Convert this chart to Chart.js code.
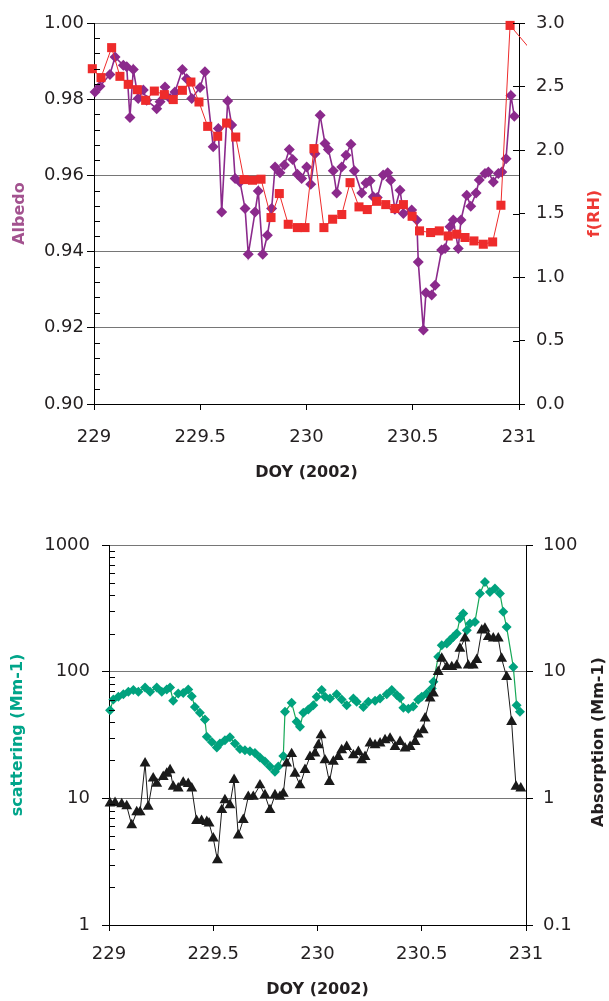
<!DOCTYPE html>
<html>
<head>
<meta charset="utf-8">
<script src="https://cdn.jsdelivr.net/npm/chart.js@4.4.1/dist/chart.umd.min.js"></script>
<style>
  html, body { margin: 0; padding: 0; background: #fff; }
  #wrap { position: relative; width: 609px; height: 1001px; overflow: hidden; }
  #c1 { position: absolute; left: 0; top: 0; }
  #c2 { position: absolute; left: 0; top: 500px; }
</style>
</head>
<body>
<div id="wrap">
  <canvas id="c1" width="609" height="500"></canvas>
  <canvas id="c2" width="609" height="501"></canvas>
</div>
<script>
// ---- Upper panel: albedo and f(RH) vs day of year ----
const albedoDoy = [229.005,229.028,229.075,229.099,229.138,229.154,229.169,229.185,229.208,229.232,229.248,229.295,229.311,229.334,229.358,229.381,229.416,229.436,229.460,229.499,229.522,229.561,229.585,229.601,229.629,229.648,229.664,229.687,229.711,229.726,229.758,229.773,229.794,229.816,229.836,229.852,229.875,229.896,229.919,229.935,229.957,229.977,230.001,230.020,230.040,230.064,230.087,230.103,230.126,230.142,230.166,230.186,230.209,230.225,230.260,230.280,230.299,230.314,230.333,230.361,230.382,230.396,230.416,230.440,230.456,230.495,230.519,230.526,230.550,230.562,230.589,230.605,230.636,230.652,230.675,230.691,230.714,230.727,230.754,230.773,230.798,230.813,230.840,230.856,230.879,230.903,230.919,230.939,230.962,230.978];
const albedo = [0.9819,0.9834,0.9865,0.9911,0.9889,0.9885,0.9752,0.9878,0.9802,0.9824,0.9797,0.9775,0.9793,0.9832,0.9802,0.9819,0.9878,0.9854,0.9802,0.9831,0.9872,0.9675,0.9723,0.9504,0.9795,0.9732,0.9592,0.9583,0.9513,0.9393,0.9504,0.9559,0.9393,0.9443,0.9513,0.9622,0.9607,0.9627,0.9668,0.9642,0.9603,0.9592,0.9622,0.9577,0.9657,0.9758,0.9684,0.9668,0.9612,0.9554,0.9622,0.9653,0.9682,0.9612,0.9554,0.9580,0.9586,0.9544,0.9542,0.9601,0.9607,0.9587,0.9511,0.9561,0.9500,0.9509,0.9483,0.9373,0.9194,0.9292,0.9286,0.9312,0.9404,0.9408,0.9465,0.9483,0.9408,0.9483,0.9548,0.9519,0.9554,0.9588,0.9605,0.9609,0.9583,0.9605,0.9609,0.9644,0.9810,0.9755];

const frhDoy = [228.992,229.033,229.083,229.122,229.161,229.204,229.243,229.284,229.331,229.373,229.416,229.456,229.494,229.535,229.582,229.624,229.667,229.706,229.746,229.786,229.833,229.872,229.914,229.957,229.993,230.035,230.082,230.123,230.166,230.205,230.247,230.286,230.330,230.373,230.416,230.456,230.497,230.532,230.584,230.625,230.667,230.707,230.746,230.788,230.832,230.876,230.915,230.958,231.080];
const frh = [2.640,2.570,2.806,2.580,2.517,2.475,2.391,2.464,2.436,2.397,2.470,2.535,2.378,2.186,2.108,2.212,2.102,1.767,1.762,1.770,1.468,1.657,1.415,1.389,1.389,2.011,1.389,1.455,1.492,1.743,1.552,1.531,1.596,1.570,1.539,1.570,1.478,1.363,1.350,1.363,1.323,1.337,1.311,1.284,1.258,1.276,1.565,2.981,2.740];

// ---- Lower panel: scattering and absorption coefficients ----
const scatDoy = [229.005,229.021,229.045,229.069,229.093,229.117,229.141,229.173,229.197,229.229,229.253,229.277,229.293,229.308,229.332,229.356,229.380,229.397,229.412,229.436,229.460,229.469,229.493,229.517,229.532,229.556,229.580,229.604,229.628,229.652,229.676,229.700,229.724,229.748,229.772,229.796,229.812,229.836,229.844,229.876,229.900,229.916,229.932,229.956,229.980,229.996,230.020,230.036,230.060,230.092,230.116,230.140,230.172,230.188,230.220,230.244,230.276,230.300,230.332,230.356,230.380,230.396,230.412,230.436,230.459,230.483,230.500,230.524,230.548,230.556,230.579,230.596,230.620,230.635,230.651,230.668,230.683,230.699,230.716,230.731,230.755,230.779,230.803,230.827,230.851,230.875,230.891,230.907,230.939,230.955,230.971];
const scattering = [49.7,60.4,63.3,66.4,69.3,71.5,69.3,75,69.3,75,69.3,72.4,75,58.9,67.3,68,72.4,64,52.7,47.3,42,30.6,27.9,25.2,27.1,28.8,30.3,27.1,24.5,24,23.5,22.8,21,19.5,17.8,16.2,17.8,21.6,48.2,56.8,40.2,36.7,47.3,50.3,54.4,63.3,71.5,63.3,61.5,66.4,60.4,54.4,61.5,57.8,52.7,57.8,58.9,61.5,66.4,71.5,65.3,62,52,51,53,60,63.3,67.3,73.8,83.2,131,162,167,177,188,200,263,288,212,240,247,414,511,426,453,414,297,225,109,54.4,48.2];

const absDoy = [229.005,229.029,229.061,229.085,229.109,229.133,229.149,229.173,229.188,229.212,229.229,229.260,229.277,229.293,229.308,229.332,229.356,229.380,229.397,229.420,229.444,229.469,229.480,229.500,229.520,229.541,229.556,229.580,229.600,229.620,229.644,229.668,229.692,229.724,229.748,229.772,229.796,229.820,229.836,229.852,229.876,229.892,229.916,229.940,229.964,229.988,230.004,230.017,230.036,230.057,230.076,230.100,230.116,230.140,230.172,230.196,230.212,230.228,230.252,230.276,230.300,230.324,230.348,230.372,230.396,230.420,230.444,230.468,230.483,230.507,230.516,230.540,230.556,230.579,230.596,230.620,230.644,230.668,230.683,230.707,230.723,230.747,230.764,230.788,230.803,230.819,230.843,230.867,230.883,230.907,230.931,230.952,230.975];
const absorption = [0.914,0.92,0.90,0.87,0.615,0.78,0.78,1.89,0.86,1.44,1.31,1.48,1.57,1.67,1.24,1.20,1.33,1.30,1.20,0.665,0.665,0.653,0.635,0.484,0.326,0.81,0.97,0.885,1.40,0.51,0.676,1.03,1.03,1.27,1.06,0.81,1.06,1.03,1.09,1.89,2.24,1.57,1.27,1.68,2.13,2.27,2.63,3.15,2.0,1.35,1.95,2.13,2.40,2.55,2.19,2.33,2.0,2.13,2.72,2.63,2.72,2.88,2.97,2.55,2.79,2.48,2.55,2.79,3.2,3.46,4.28,6.15,6.73,9.96,12.7,10.9,10.9,11.2,15.2,18.3,11.2,11.2,12.4,21.2,21.9,18.8,18.3,18.3,12.7,9.1,4.02,1.24,1.20];

// axis tick labels
const doyTicks = [229, 229.5, 230, 230.5, 231];
const albedoTicks = [0.90, 0.92, 0.94, 0.96, 0.98, 1.00];
const frhTicks = [0, 0.5, 1.0, 1.5, 2.0, 2.5, 3.0];
const scatTicks = [1, 10, 100, 1000];
const absTicks = [0.1, 1, 10, 100];

const pts = (xs, ys) => xs.map((x, i) => ({ x, y: ys[i] }));

Chart.defaults.font.family = '"DejaVu Sans", sans-serif';
Chart.defaults.color = '#231f20';
Chart.defaults.animation = false;

const GRID = '#767676';
const TICKFONT = { size: 18 };
const TITLEFONT = { size: 16, weight: 'bold' };

// Short inward tick marks and right-hand rotated titles
const extraMarks = {
  id: 'extraMarks',
  afterDraw(chart, args, opts) {
    const ctx = chart.ctx;
    ctx.save();
    ctx.strokeStyle = '#000';
    ctx.lineWidth = 1;
    (opts.inner || []).forEach(spec => {
      const s = chart.scales[spec.scale];
      spec.values.forEach(v => {
        const y = Math.round(s.getPixelForValue(v)) + 0.5;
        const x0 = spec.side === 'left' ? s.right : s.left;
        const x1 = spec.side === 'left' ? x0 + spec.len : x0 - spec.len;
        ctx.beginPath(); ctx.moveTo(x0, y); ctx.lineTo(x1, y); ctx.stroke();
      });
    });
    (opts.titles || []).forEach(t => {
      const ca = chart.chartArea;
      ctx.save();
      ctx.translate(ca.right + t.dx, (ca.top + ca.bottom) / 2 + t.dy);
      ctx.rotate(-Math.PI / 2);
      ctx.font = 'bold 16px "DejaVu Sans", sans-serif';
      ctx.fillStyle = t.color;
      ctx.textAlign = 'center';
      ctx.textBaseline = 'middle';
      ctx.fillText(t.text, 0, 0);
      ctx.restore();
    });
    ctx.restore();
  }
};

function xScale(height, pad, titlePad) {
  return {
    type: 'linear', position: 'bottom', min: 229, max: 231,
    afterBuildTicks: s => { s.ticks = doyTicks.map(v => ({ value: v })); },
    ticks: { font: TICKFONT, padding: pad, callback: v => String(+Number(v).toFixed(1)) },
    grid: { drawOnChartArea: false, tickLength: 6, tickColor: '#000' },
    border: { color: '#000', width: 1 },
    title: { display: true, text: 'DOY (2002)', font: TITLEFONT, color: '#231f20', padding: { top: 0, bottom: titlePad } },
    afterFit: s => { s.height = height; }
  };
}

// minor tick positions
const albedoMinor = [];
for (let i = 1; i < 25; i++) if (i % 5) albedoMinor.push(0.90 + i * 0.004);
const scatMinor = [];
[1, 10, 100].forEach(d => { for (let m = 2; m <= 9; m++) scatMinor.push(d * m); });

new Chart(document.getElementById('c1'), {
  type: 'line',
  data: {
    datasets: [
      {
        label: 'f(RH)', yAxisID: 'y2', order: 0, clip: 8,
        data: pts(frhDoy, frh),
        borderColor: '#ee2b2b', backgroundColor: '#ee2b2b', borderWidth: 1,
        pointStyle: 'rect', pointRadius: 6.4, pointBorderWidth: 0, tension: 0
      },
      {
        label: 'Albedo', yAxisID: 'y', order: 1, clip: 8,
        data: pts(albedoDoy, albedo),
        borderColor: '#8b2a8c', backgroundColor: '#8b2a8c', borderWidth: 1.6,
        pointStyle: 'rectRot', pointRadius: 5.5, pointBorderWidth: 0, tension: 0
      }
    ]
  },
  options: {
    responsive: false,
    layout: { padding: { top: 23, left: 0, right: 0, bottom: 0 } },
    plugins: {
      legend: { display: false }, tooltip: { enabled: false },
      extraMarks: {
        inner: [
          { scale: 'y', side: 'left', len: 6, values: albedoMinor },
          { scale: 'y2', side: 'right', len: 6, values: frhTicks }
        ],
        titles: [{ text: 'f(RH)', color: '#ee3a35', dx: 76, dy: 0 }]
      }
    },
    scales: {
      x: xScale(96, 17, 18),
      y: {
        position: 'left', min: 0.90, max: 1.00,
        afterBuildTicks: s => { s.ticks = albedoTicks.map(v => ({ value: v })); },
        ticks: { font: TICKFONT, padding: 3, callback: v => Number(v).toFixed(2) },
        grid: { color: c => (c.tick && c.tick.value > 0.901 ? GRID : 'rgba(0,0,0,0)'), tickColor: '#000', tickLength: 7, lineWidth: 1 },
        border: { color: '#000', width: 1 },
        title: { display: true, text: 'Albedo', font: TITLEFONT, color: '#a3528f', padding: { top: 10, bottom: 0 } },
        afterFit: s => { s.width = 94; }
      },
      y2: {
        position: 'right', min: 0, max: 3,
        afterBuildTicks: s => { s.ticks = frhTicks.map(v => ({ value: v })); },
        ticks: { font: TICKFONT, padding: 11, callback: v => Number(v).toFixed(1) },
        grid: { drawOnChartArea: false, tickColor: '#000', tickLength: 6 },
        border: { color: '#000', width: 1 },
        afterFit: s => { s.width = 90; }
      }
    }
  },
  plugins: [extraMarks]
});

new Chart(document.getElementById('c2'), {
  type: 'line',
  data: {
    datasets: [
      {
        label: 'Absorption (Mm-1)', yAxisID: 'y2', order: 0, clip: 8,
        data: pts(absDoy, absorption),
        borderColor: '#1a1a1a', backgroundColor: '#1a1a1a', borderWidth: 1,
        pointStyle: 'triangle', pointRadius: 6.3, pointBorderWidth: 0, tension: 0
      },
      {
        label: 'scattering (Mm-1)', yAxisID: 'y', order: 1, clip: 8,
        data: pts(scatDoy, scattering),
        borderColor: '#17a857', backgroundColor: '#00a27e', borderWidth: 1.2,
        pointStyle: 'rectRot', pointRadius: 5, pointBorderWidth: 0, tension: 0
      }
    ]
  },
  options: {
    responsive: false,
    layout: { padding: { top: 45, left: 0, right: 0, bottom: 0 } },
    plugins: {
      legend: { display: false }, tooltip: { enabled: false },
      extraMarks: {
        inner: [{ scale: 'y', side: 'left', len: 6, values: scatMinor }],
        titles: [{ text: 'Absorption (Mm-1)', color: '#231f20', dx: 73, dy: 7 }]
      }
    },
    scales: {
      x: xScale(76, 13, 2),
      y: {
        type: 'logarithmic', position: 'left', min: 1, max: 1000,
        afterBuildTicks: s => { s.ticks = scatTicks.map(v => ({ value: v })); },
        ticks: { font: TICKFONT, padding: 12, callback: v => String(v) },
        grid: { color: c => (c.tick && c.tick.value > 1.5 ? GRID : 'rgba(0,0,0,0)'), tickColor: '#000', tickLength: 7, lineWidth: 1 },
        border: { color: '#000', width: 1 },
        title: { display: true, text: 'scattering (Mm-1)', font: TITLEFONT, color: '#00a58a', padding: { top: 8, bottom: 0 } },
        afterFit: s => { s.width = 109; }
      },
      y2: {
        type: 'logarithmic', position: 'right', min: 0.1, max: 100,
        afterBuildTicks: s => { s.ticks = absTicks.map(v => ({ value: v })); },
        ticks: { font: TICKFONT, padding: 10, callback: v => String(v) },
        grid: { drawOnChartArea: false, tickColor: '#000', tickLength: 7 },
        border: { color: '#000', width: 1 },
        afterFit: s => { s.width = 83; }
      }
    }
  },
  plugins: [extraMarks]
});
</script>
</body>
</html>
